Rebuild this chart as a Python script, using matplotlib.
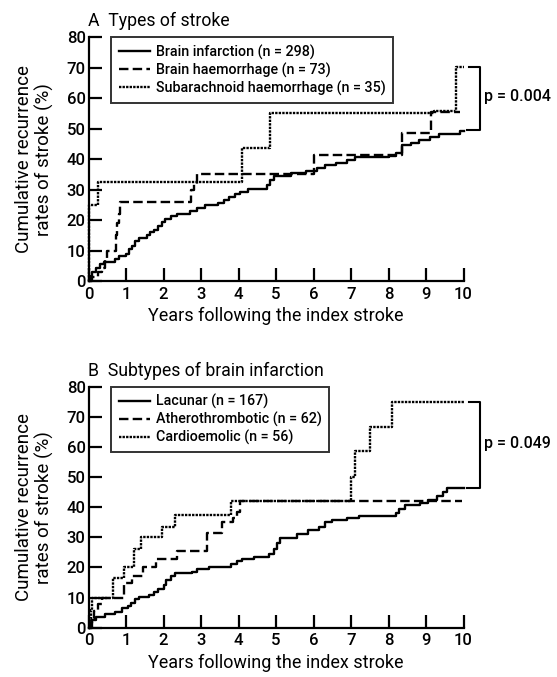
import matplotlib
matplotlib.use("Agg")
import matplotlib.pyplot as plt

plt.rcParams['font.family'] = ['Roboto', 'DejaVu Sans']
plt.rcParams['font.weight'] = 'medium'

# ---------------- Data: panel A ----------------
inf_t = [0, 0.05, 0.1, 0.2, 0.3, 0.4, 0.7, 0.8, 1.0, 1.08, 1.15, 1.25, 1.35, 1.55, 1.65, 1.75,
         1.85, 1.95, 2.05, 2.2, 2.35, 2.7, 2.9, 3.1, 3.45, 3.6, 3.75, 3.9, 4.05, 4.25, 4.75,
         4.85, 4.95, 5.4, 5.8, 6.1, 6.3, 6.6, 6.9, 7.1, 7.4, 8.0, 8.2, 8.35, 8.6, 8.8, 9.1,
         9.35, 9.9, 10.0]
inf_v = [0, 1.5, 3, 4.2, 5.5, 6.3, 7.3, 8.3, 9.0, 10.5, 11.5, 13, 14, 15, 16, 16.7,
         18, 19.3, 20.3, 21.2, 22, 23, 23.8, 24.8, 25.5, 26.5, 27.6, 28.5, 29.3, 30.3, 31.5,
         33, 34.5, 35.3, 36, 37, 38, 38.8, 39.8, 40.6, 40.8, 41, 42, 44.5, 45.3, 46.3, 47.2,
         48.3, 49.3, 49.3]

hae_t = [0, 0.1, 0.25, 0.35, 0.45, 0.5, 0.73, 0.76, 0.8, 0.85, 2.72, 2.8, 2.88, 6.0, 8.35, 9.13, 9.9]
hae_v = [0, 1.4, 2.8, 4.2, 7, 10, 15, 19, 22, 26, 30, 32, 35, 41.3, 48.5, 55.5, 55.5]

sah_t = [0, 0.02, 0.25, 4.1, 4.85, 9.2, 9.8, 10.0]
sah_v = [0, 25, 32.5, 43.8, 55.3, 55.8, 70.3, 70.3]

labels_a = ['Brain infarction (n = 298)', 'Brain haemorrhage (n = 73)',
            'Subarachnoid haemorrhage (n = 35)']
p_a = 'p = 0.004'

# ---------------- Data: panel B ----------------
lac_t = [0, 0.05, 0.1, 0.19, 0.45, 0.7, 0.9, 1.05, 1.13, 1.25, 1.35, 1.6, 1.75, 1.85, 2.0, 2.07,
         2.2, 2.3, 2.75, 2.9, 3.2, 3.8, 3.95, 4.1, 4.4, 4.8, 4.95, 5.02, 5.1, 5.55, 5.85, 6.15,
         6.3, 6.5, 6.9, 7.2, 8.2, 8.27, 8.45, 8.85, 9.05, 9.3, 9.45, 9.55, 10.0]
lac_v = [0, 1.5, 2.5, 3.7, 4.5, 5.3, 6.4, 7.2, 8.2, 9.4, 10.3, 10.8, 11.8, 12.8, 14.2, 16,
         17.3, 18, 18.6, 19.5, 20.2, 21.2, 22, 22.8, 23.5, 24.3, 26, 28, 29.8, 31.2, 32.5, 33.5,
         35, 35.7, 36.5, 37, 38, 39.5, 40.7, 41.5, 42.5, 43.8, 45, 46.3, 46.3]

ath_t = [0, 0.08, 0.15, 0.25, 0.35, 0.95, 1.15, 1.45, 1.8, 2.35, 3.15, 3.55, 3.85, 3.95, 4.05, 9.95]
ath_v = [0, 3, 5.5, 8, 10, 14.7, 17.2, 20, 22.8, 25.5, 31.6, 35, 36.5, 38.3, 42, 42]

car_t = [0, 0.03, 0.06, 0.1, 0.64, 0.95, 1.2, 1.4, 1.95, 2.3, 3.8, 7.0, 7.1, 7.5, 8.1, 10.0]
car_v = [0, 3, 6, 10, 16.5, 20, 26, 30, 33.5, 37.5, 42, 50, 58.5, 66.5, 75, 75]

labels_b = ['Lacunar (n = 167)', 'Atherothrombotic (n = 62)', 'Cardioemolic (n = 56)']
p_b = 'p = 0.049'

xticks = list(range(0, 11))
yticks = list(range(0, 81, 10))

fig = plt.figure(figsize=(5.57, 6.77), dpi=100)
W, H = 557, 677


def mkax(top_px, bot_px):
    l, r = 88.5 / W, 463.5 / W
    return fig.add_axes([l, 1 - bot_px / H, r - l, (bot_px - top_px) / H])


ax1 = mkax(37.3, 281)
ax2 = mkax(386.7, 627.7)

dotted = (0, (1.0, 0.5))
dashed = (0, (4, 1.8))


def style(ax, title):
    ax.set_xlim(0, 10)
    ax.set_ylim(0, 80)
    ax.set_xticks(xticks)
    ax.set_yticks(yticks)
    for s in ['top', 'right']:
        ax.spines[s].set_visible(False)
    for s in ['left', 'bottom']:
        ax.spines[s].set_linewidth(1.6)
    ax.tick_params(axis='x', direction='in', length=9.5, width=1.6, labelsize=12, pad=4)
    ax.tick_params(axis='y', direction='in', length=9, width=1.6, labelsize=12, pad=2)
    ax.set_xlabel('Years following the index stroke', fontsize=13, labelpad=4)
    ax.set_ylabel('Cumulative recurrence\nrates of stroke (%)', fontsize=13.5, labelpad=9,
                  linespacing=1.1)
    ax.set_title(title, loc='left', fontsize=12.7, pad=8, x=0.0)


def curves(ax, data, labels, bracket, ptext):
    styles = ['-', dashed, dotted]
    handles = []
    for (t, v), ls, lab in zip(data, styles, labels):
        h, = ax.step(t, v, where='post', color='black', lw=1.7, linestyle=ls,
                     label=lab, clip_on=False)
        handles.append(h)
    leg = ax.legend(handles=handles, loc='upper left', bbox_to_anchor=(0.061, 1.0),
                    borderaxespad=0, fontsize=10.3, frameon=True, fancybox=False,
                    edgecolor='black', handlelength=2.2, handletextpad=0.4,
                    labelspacing=0.2, borderpad=0.5)
    leg.get_frame().set_linewidth(1.4)
    top, bot = bracket
    xb = 10.45
    ax.plot([10.15, xb, xb, 10.1], [top, top, bot, bot], color='black', lw=1.5,
            clip_on=False)
    ax.text(10.55, (top + bot) / 2 + 0.5, ptext, fontsize=11.5, va='center', ha='left')


style(ax1, 'A  Types of stroke')
curves(ax1, [(inf_t, inf_v), (hae_t, hae_v), (sah_t, sah_v)], labels_a, (70.3, 49.6), p_a)
style(ax2, 'B  Subtypes of brain infarction')
curves(ax2, [(lac_t, lac_v), (ath_t, ath_v), (car_t, car_v)], labels_b, (75, 46.5), p_b)

fig.savefig('out.png', dpi=100)
